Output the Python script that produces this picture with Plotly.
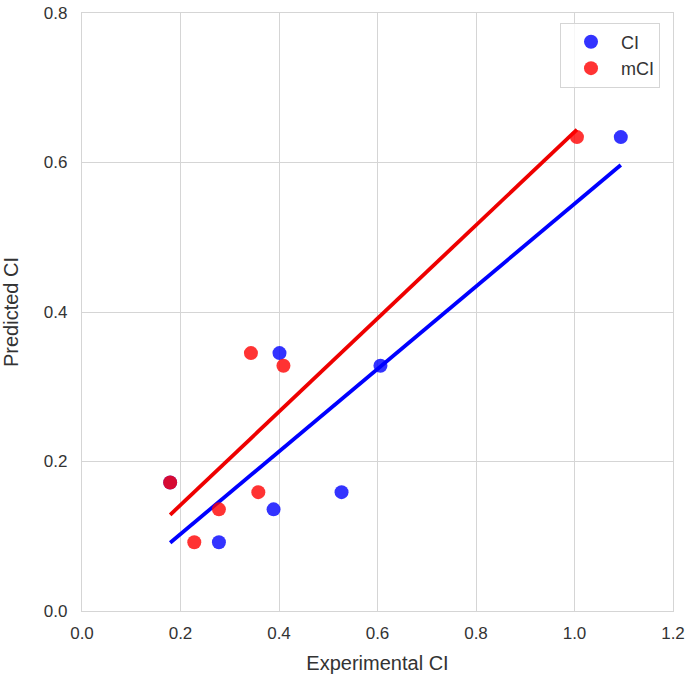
import numpy as np
import plotly.graph_objects as go

ci_x = [0.179, 0.278, 0.389, 0.527, 0.401, 0.606, 1.094]
ci_y = [0.172, 0.092, 0.136, 0.159, 0.345, 0.328, 0.634]
mci_x = [0.179, 0.228, 0.278, 0.358, 0.343, 0.409, 1.005]
mci_y = [0.172, 0.092, 0.136, 0.159, 0.345, 0.328, 0.634]

x_ticks = [0.0, 0.2, 0.4, 0.6, 0.8, 1.0, 1.2]
y_ticks = [0.0, 0.2, 0.4, 0.6, 0.8]

FONT = "Liberation Sans, Arial, sans-serif"

fig = go.Figure()

def add_fit(xs, ys, color):
    xs = np.array(xs); ys = np.array(ys)
    slope, icpt = np.polyfit(xs, ys, 1)
    lx = np.array([xs.min(), xs.max()])
    fig.add_trace(go.Scatter(x=lx, y=slope * lx + icpt, mode="lines",
                             line=dict(color=color, width=3.8),
                             showlegend=False, hoverinfo="skip"))

add_fit(ci_x, ci_y, "#0000ff")
add_fit(mci_x, mci_y, "#ee0000")

fig.add_trace(go.Scatter(x=ci_x, y=ci_y, mode="markers", name="CI",
                         marker=dict(color="rgba(0,0,255,0.8)", size=14, line=dict(width=0))))
fig.add_trace(go.Scatter(x=mci_x, y=mci_y, mode="markers", name="mCI",
                         marker=dict(color="rgba(255,0,0,0.8)", size=14, line=dict(width=0))))

axis_common = dict(showgrid=True, gridcolor="#d5d5d5", gridwidth=1.3,
                   showline=True, linecolor="#d5d5d5", linewidth=1.3, mirror=True,
                   zeroline=False, ticks="outside", tickcolor="rgba(255,255,255,0)",
                   automargin=False,
                   tickfont=dict(family=FONT, size=17, color="#333333"),
                   title_font=dict(family=FONT, size=20, color="#333333"))

fig.update_layout(
    width=685, height=678,
    margin=dict(l=82, r=12, t=13, b=67),
    plot_bgcolor="white", paper_bgcolor="white",
    xaxis=dict(range=[0, 1.2], tickvals=x_ticks, ticktext=[f"{v:.1f}" for v in x_ticks],
               ticklen=6,
               title=dict(text="Experimental CI", standoff=14), **axis_common),
    yaxis=dict(range=[0, 0.8], tickvals=y_ticks, ticktext=[f"{v:.1f}" for v in y_ticks],
               ticklen=10,
               title=dict(text="Predicted CI", standoff=20), **axis_common),
    legend=dict(x=0.978, y=0.984, xanchor="right", yanchor="top",
                bgcolor="rgba(255,255,255,0.8)", bordercolor="#d5d5d5", borderwidth=1,
                font=dict(family=FONT, size=18, color="#333333"),
                itemwidth=50, tracegroupgap=2),
    showlegend=True,
)

fig.write_html("out.html", config={"displayModeBar": False},
               post_script="document.body.style.margin='0';document.body.style.overflow='hidden';")
